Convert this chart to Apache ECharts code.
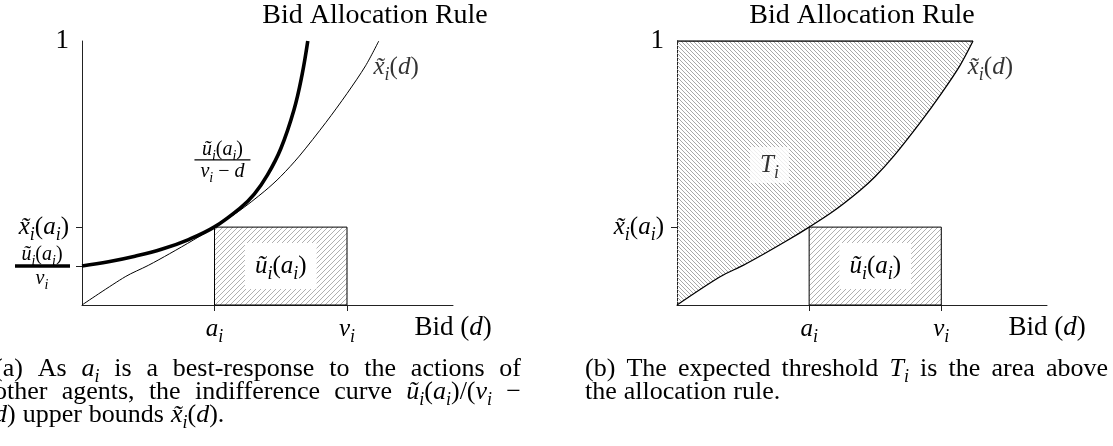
<!DOCTYPE html>
<html>
<head>
<meta charset="utf-8">
<script src="https://cdn.jsdelivr.net/npm/echarts@6/dist/echarts.min.js"></script>
<style>
html, body { margin: 0; padding: 0; background: #fff; }
#chart { width: 1113px; height: 446px; }
</style>
</head>
<body>
<div id="chart"></div>
<script>
// bid axis in units of v_i, allocation axis 0..1
const bidTicks = [0.5, 1.0];             // a_i, v_i
const bidTickNames = ['a', 'v'];
const allocTickXa = 0.295;               // x~_i(a_i)
const allocTickUv = 0.148;               // u~_i(a_i) / v_i

// allocation rule x~_i(d)
const ruleBid = [0, 0.163, 0.25, 0.33, 0.42, 0.5, 0.59, 0.69, 0.75, 0.82, 0.92, 1.0, 1.07, 1.12];
const ruleAlloc = [0, 0.107, 0.15, 0.194, 0.246, 0.295, 0.354, 0.432, 0.487, 0.564, 0.691, 0.801, 0.906, 1.0];

// indifference curve u~_i(a_i)/(v_i - d)
const indiffBid = [0, 0.1, 0.2, 0.3, 0.4, 0.5, 0.6, 0.65, 0.7, 0.75, 0.8, 0.83, 0.852];
const indiffAlloc = [0.148, 0.164, 0.185, 0.211, 0.247, 0.296, 0.37, 0.42, 0.493, 0.592, 0.74, 0.87, 1.0];

// utility box u~_i(a_i) : from (a_i, 0) to (v_i, x~_i(a_i))
const boxFrom = [0.5, 0];
const boxTo = [1.0, 0.295];

// label anchors (data units)
const ruleLabelAt = [1.1, 0.9];
const tLabelAt = [0.35, 0.53];
const fracLabelAt = [0.53, 0.55];

const serif = '"Liberation Serif", "Times New Roman", serif';

const zip = (xs, ys) => xs.map((x, i) => [x, ys[i]]);

function mathRich(size) {
  const lh = Math.round(size * 1.35);
  const subLh = Math.round(size * 0.62);
  const base = { fontFamily: serif, color: '#000', fill: '#000' };
  return {
    it: { ...base, fontStyle: 'italic', fontSize: size, lineHeight: lh },
    rm: { ...base, fontSize: size, lineHeight: lh },
    sub: { ...base, fontStyle: 'italic', fontSize: Math.round(size * 0.7), lineHeight: subLh, verticalAlign: 'bottom' }
  };
}

const XT = 'x\u0303';
const xTildeA = `{it|${XT}}{sub|i}{rm|(}{it|a}{sub|i}{rm|)}`;
const xTildeD = `{it|${XT}}{sub|i}{rm|(}{it|d}{rm|)}`;
const uTildeA = '{it|ũ}{sub|i}{rm|(}{it|a}{sub|i}{rm|)}';

function hatch(size, dir, color) {
  const c = document.createElement('canvas');
  c.width = c.height = size;
  const ctx = c.getContext('2d');
  ctx.strokeStyle = color;
  ctx.lineWidth = 1;
  ctx.beginPath();
  if (dir > 0) {
    ctx.moveTo(-1, size + 1); ctx.lineTo(size + 1, -1);
    ctx.moveTo(-1, 1); ctx.lineTo(1, -1);
    ctx.moveTo(size - 1, size + 1); ctx.lineTo(size + 1, size - 1);
  } else {
    ctx.moveTo(-1, -1); ctx.lineTo(size + 1, size + 1);
    ctx.moveTo(size - 1, -1); ctx.lineTo(size + 1, 1);
    ctx.moveTo(-1, size - 1); ctx.lineTo(1, size + 1);
  }
  ctx.stroke();
  return c;
}
const boxHatch = { image: hatch(5, 1, '#b0b0b0'), repeat: 'repeat' };
const areaHatch = { image: hatch(4, -1, '#a8a8a8'), repeat: 'repeat' };

const chart = echarts.init(document.getElementById('chart'));

const rich25 = mathRich(25);

function xAxisFor(g) {
  return {
    gridIndex: g, type: 'value', min: 0, max: 1.4,
    axisLine: { show: true, onZero: false, lineStyle: { color: '#222', width: 1 } },
    axisTick: { show: true, customValues: bidTicks, length: 6, lineStyle: { color: '#222' } },
    axisLabel: {
      show: true, customValues: bidTicks, margin: 7, rich: rich25,
      formatter: v => `{it|${bidTickNames[bidTicks.indexOf(v)]}}{sub|i}`
    },
    splitLine: { show: false }
  };
}

function yAxisFor(g, ticks) {
  return {
    gridIndex: g, type: 'value', min: 0, max: 1,
    axisLine: { show: true, onZero: false, lineStyle: { color: '#222', width: 1 } },
    axisTick: { show: true, customValues: ticks, length: 6, lineStyle: { color: '#222' } },
    axisLabel: {
      show: true, customValues: [allocTickXa, 1], margin: 13,
      rich: { ...rich25, one: { fontFamily: serif, fontSize: 27, color: '#000' } },
      formatter: v => v === 1 ? '{one|1}' : xTildeA
    },
    splitLine: { show: false }
  };
}

function boxArea() {
  return {
    silent: true,
    itemStyle: { color: boxHatch, borderColor: '#000', borderWidth: 1 },
    label: {
      show: true, position: 'inside', formatter: uTildeA, rich: rich25,
      backgroundColor: '#fff', padding: [6, 10]
    },
    emphasis: { disabled: true },
    data: [[{ coord: boxFrom }, { coord: boxTo }]]
  };
}

const titleStyle = { fontFamily: serif, fontSize: 28, fontWeight: 'normal', color: '#000' };

const option = {
  animation: false,
  backgroundColor: '#fff',
  title: [
    { text: 'Bid Allocation Rule', left: 375, top: 2, textAlign: 'center', padding: 0, textStyle: titleStyle },
    { text: 'Bid Allocation Rule', left: 862, top: 2, textAlign: 'center', padding: 0, textStyle: titleStyle }
  ],
  grid: [
    { left: 82, top: 41, width: 371, height: 264, outerBoundsMode: 'none' },
    { left: 677, top: 41, width: 370, height: 264, outerBoundsMode: 'none' }
  ],
  xAxis: [xAxisFor(0), xAxisFor(1)],
  yAxis: [yAxisFor(0, [allocTickXa, allocTickUv]), yAxisFor(1, [allocTickXa])],
  series: [
    // (a) allocation rule
    {
      type: 'line', xAxisIndex: 0, yAxisIndex: 0, data: zip(ruleBid, ruleAlloc),
      showSymbol: false, smooth: 0.3, silent: true,
      lineStyle: { color: '#000', width: 1 },
      markArea: boxArea()
    },
    // (a) indifference curve
    {
      type: 'line', xAxisIndex: 0, yAxisIndex: 0, data: zip(indiffBid, indiffAlloc),
      showSymbol: false, smooth: 0.4, silent: true,
      lineStyle: { color: '#000', width: 3.6 }
    },
    // (b) allocation rule with threshold area above it
    {
      type: 'line', xAxisIndex: 1, yAxisIndex: 1, data: zip(ruleBid, ruleAlloc),
      showSymbol: false, smooth: 0.3, silent: true,
      lineStyle: { color: '#000', width: 1.3 },
      areaStyle: { origin: 'end', color: areaHatch, opacity: 1 },
      markArea: boxArea()
    },
    // (b) top edge of T_i
    {
      type: 'line', xAxisIndex: 1, yAxisIndex: 1,
      data: [[0, 1], [ruleBid[ruleBid.length - 1], 1]],
      showSymbol: false, silent: true, lineStyle: { color: '#000', width: 1.3 }
    },
    // curve labels
    {
      type: 'scatter', xAxisIndex: 0, yAxisIndex: 0, symbolSize: 0, silent: true,
      data: [ruleLabelAt],
      label: { show: true, position: 'right', distance: 0, formatter: xTildeD, rich: rich25 }
    },
    {
      type: 'scatter', xAxisIndex: 1, yAxisIndex: 1, symbolSize: 0, silent: true,
      data: [ruleLabelAt],
      label: { show: true, position: 'right', distance: 0, formatter: xTildeD, rich: rich25 }
    },
    {
      type: 'scatter', xAxisIndex: 1, yAxisIndex: 1, symbolSize: 0, silent: true, z: 5,
      data: [tLabelAt],
      label: { show: true, position: 'inside', formatter: '{it|T}{sub|i}', rich: rich25,
        backgroundColor: '#fff', padding: [1, 10] }
    }
  ]
};

chart.setOption(option);

// annotations placed from data coordinates
const px = (g, p) => chart.convertToPixel({ gridIndex: g }, p);
const rich20 = mathRich(20);
const rich27 = mathRich(27);
const capRich = mathRich(26);
const textEl = (x, y, text, rich, align) => ({
  type: 'text', x, y, silent: true,
  style: { text, rich, fill: '#000', align: align || 'center', textAlign: align || 'center',
    verticalAlign: 'middle', textVerticalAlign: 'middle' }
});

function measure(text) {
  const t = new echarts.graphic.Text({ style: { text, rich: capRich, verticalAlign: 'middle' } });
  return t.getBoundingRect().width;
}
function captionLine(words, x0, x1, y) {
  const w = words.map(measure);
  const total = w.reduce((a, b) => a + b, 0);
  const gap = x1 == null ? 7 : (x1 - x0 - total) / (words.length - 1);
  let x = x0;
  return words.map((word, i) => {
    const el = textEl(x, y, word, capRich, 'left');
    x += w[i] + gap;
    return el;
  });
}
const R = s => `{rm|${s}}`;

const [fx, fy] = px(0, fracLabelAt);
const [ax0, uvY] = px(0, [0, allocTickUv]);
const bidEnd0 = px(0, [1.4, 0]);
const bidEnd1 = px(1, [1.4, 0]);
const bidName = '{rm|Bid (}{it|d}{rm|)}';

const graphic = [
  // fraction beside the indifference curve
  textEl(fx, fy - 10, uTildeA, rich20),
  { type: 'line', silent: true, shape: { x1: fx - 28, y1: fy, x2: fx + 28, y2: fy }, style: { stroke: '#000', lineWidth: 1.2 } },
  textEl(fx, fy + 12, '{it|v}{sub|i}{rm| − }{it|d}', rich20),
  // fraction tick label u~(a)/v
  textEl(ax0 - 40, uvY - 11, uTildeA, rich20),
  { type: 'line', silent: true, shape: { x1: ax0 - 67, y1: uvY, x2: ax0 - 12, y2: uvY }, style: { stroke: '#000', lineWidth: 3.5 } },
  textEl(ax0 - 40, uvY + 13, '{it|v}{sub|i}', rich20),
  // axis names
  textEl(bidEnd0[0], bidEnd0[1] + 23, bidName, rich27),
  textEl(bidEnd1[0], bidEnd1[1] + 23, bidName, rich27),
  // captions
  ...captionLine([R('(a)'), R('As'), '{it|a}{sub|i}', R('is'), R('a'), R('best-response'), R('to'), R('the'), R('actions'), R('of')], -6, 521, 369),
  ...captionLine([R('other'), R('agents,'), R('the'), R('indifference'), R('curve'), uTildeA + R('/(') + '{it|v}{sub|i}', R('−')], -6, 521, 392),
  ...captionLine(['{it|d}' + R(')'), R('upper'), R('bounds'), xTildeD + R('.')], -6, null, 415),
  ...captionLine([R('(b)'), R('The'), R('expected'), R('threshold'), '{it|T}{sub|i}', R('is'), R('the'), R('area'), R('above')], 585, 1108, 369),
  ...captionLine([R('the'), R('allocation'), R('rule.')], 585, null, 392)
];

chart.setOption({ graphic });
</script>
</body>
</html>
